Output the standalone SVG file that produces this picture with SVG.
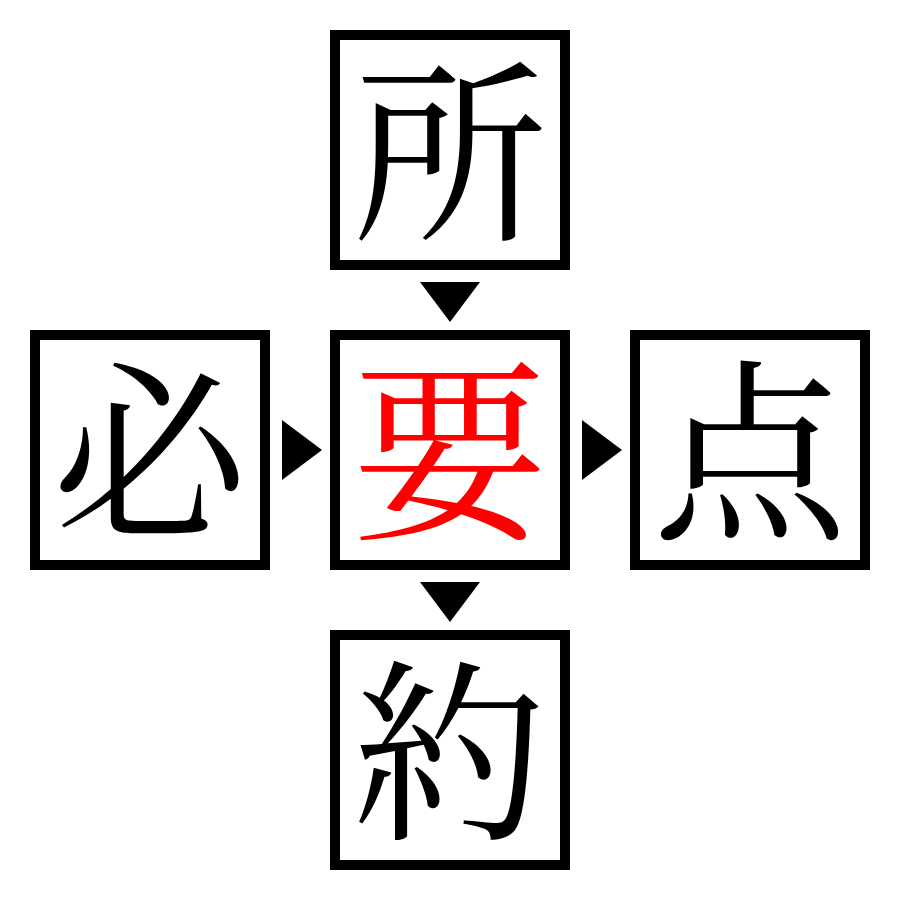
<svg xmlns="http://www.w3.org/2000/svg" width="900" height="900" viewBox="0 0 900 900">
<style>
.box{fill:#fff;stroke:#000;stroke-width:10}
.ch{font-family:"Noto Serif CJK JP","Noto Sans CJK JP",serif;font-size:195px;text-anchor:middle;dominant-baseline:central;fill:#000}
.red{fill:#f00}
.arr{fill:#000}
</style>
<rect width="900" height="900" fill="#fff"/>
<g id="connectors">
<polygon class="arr" points="420,282 480,282 450,322"/>
<polygon class="arr" points="282,420 282,480 322,450"/>
<polygon class="arr" points="582,420 582,480 622,450"/>
<polygon class="arr" points="420,582 480,582 450,622"/>
</g>
<g id="node-top"><rect class="box" x="335" y="35" width="230" height="230"/><text class="ch" x="450" y="141">所</text></g>
<g id="node-left"><rect class="box" x="35" y="335" width="230" height="230"/><text class="ch" x="150" y="441">必</text></g>
<g id="node-center"><rect class="box" x="335" y="335" width="230" height="230"/><text class="ch red" x="450" y="441">要</text></g>
<g id="node-right"><rect class="box" x="635" y="335" width="230" height="230"/><text class="ch" x="750" y="441">点</text></g>
<g id="node-bottom"><rect class="box" x="335" y="635" width="230" height="230"/><text class="ch" x="450" y="741">約</text></g>
</svg>
